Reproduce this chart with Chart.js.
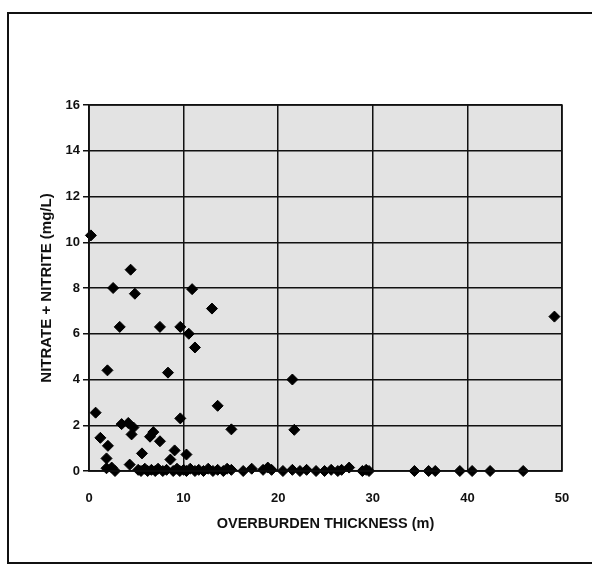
<!DOCTYPE html>
<html>
<head>
<meta charset="utf-8">
<script src="https://cdn.jsdelivr.net/npm/chart.js@4/dist/chart.umd.min.js"></script>
<style>
  html, body { margin: 0; padding: 0; background: #fff; }
  #wrap { width: 592px; height: 565px; }
</style>
</head>
<body>
<div id="wrap"><canvas id="scatter" width="592" height="565"></canvas></div>
<script>
// overburden thickness (m) and nitrate + nitrite (mg/L)
const thickness = [
  0.2, 0.7, 1.2, 1.95, 2.0, 1.85, 2.55, 4.4, 4.85, 10.9, 13.0, 3.25, 7.5, 9.65,
  10.55, 11.2, 8.35, 13.6, 15.05, 9.65, 3.45, 4.15, 4.7, 4.5, 6.8, 6.45, 7.5,
  5.6, 9.05, 8.6, 10.3, 2.4, 4.3, 1.85, 21.5, 21.7, 49.2,
  2.75, 5.2, 5.5, 5.9, 6.2, 6.6, 7.0, 7.3, 7.8, 8.2, 8.9, 9.3, 9.6, 10.0, 10.3,
  10.7, 11.2, 11.6, 12.1, 12.6, 13.1, 13.6, 14.2, 14.6, 15.05, 16.3, 17.2, 18.4,
  18.9, 19.3, 20.5, 21.5, 22.3, 23.0, 24.0, 24.9, 25.6, 26.3, 26.7, 27.5, 28.9,
  29.3, 29.6, 34.4, 35.9, 36.6, 39.2, 40.5, 42.4, 45.9
];
const nitrate = [
  10.3, 2.55, 1.45, 4.4, 1.1, 0.55, 8.0, 8.8, 7.75, 7.95, 7.1, 6.3, 6.3, 6.3,
  6.0, 5.4, 4.3, 2.85, 1.82, 2.3, 2.05, 2.1, 1.9, 1.6, 1.7, 1.5, 1.3,
  0.77, 0.9, 0.5, 0.72, 0.15, 0.28, 0.12, 4.0, 1.8, 6.75,
  0, 0.05, 0, 0.1, 0, 0.05, 0, 0.1, 0, 0.05, 0, 0.1, 0, 0.05, 0,
  0.1, 0, 0.05, 0, 0.1, 0, 0.05, 0, 0.1, 0.05, 0, 0.1, 0.05,
  0.15, 0.05, 0, 0.05, 0, 0.05, 0, 0, 0.05, 0, 0.05, 0.15, 0,
  0.05, 0, 0, 0, 0, 0, 0, 0, 0
];
const xTicks = [0, 10, 20, 30, 40, 50];
const yTicks = [0, 2, 4, 6, 8, 10, 12, 14, 16];

const points = thickness.map((x, i) => ({ x: x, y: nitrate[i] }));

const face = "'Liberation Sans', Arial, sans-serif";

// white page, scanned frame and grey plot area
const framePlugin = {
  id: 'frame',
  beforeDraw(chart) {
    const c = chart.ctx;
    const a = chart.chartArea;
    c.save();
    c.fillStyle = '#ffffff';
    c.fillRect(0, 0, chart.width, chart.height);
    c.strokeStyle = '#111';
    c.lineWidth = 2;
    c.strokeRect(8, 13, 600, 550);
    c.fillStyle = '#e3e3e3';
    c.fillRect(a.left, a.top, a.right - a.left, a.bottom - a.top);
    c.restore();
  },
  afterDatasetsDraw(chart) {
    const c = chart.ctx;
    const a = chart.chartArea;
    c.save();
    c.strokeStyle = '#111';
    c.lineWidth = 1.5;
    c.strokeRect(a.left, a.top, a.right - a.left, a.bottom - a.top);
    c.restore();
  }
};

new Chart(document.getElementById('scatter'), {
  type: 'scatter',
  data: {
    datasets: [{
      data: points,
      pointStyle: 'rectRot',
      pointRadius: 5.5,
      pointHoverRadius: 5.5,
      backgroundColor: '#000',
      borderColor: '#000',
      borderWidth: 1,
      clip: false
    }]
  },
  plugins: [framePlugin],
  options: {
    responsive: false,
    animation: false,
    events: [],
    layout: { padding: { left: 30, right: 30, top: 105, bottom: 25 } },
    plugins: { legend: { display: false }, tooltip: { enabled: false } },
    scales: {
      x: {
        type: 'linear',
        min: 0,
        max: 50,
        afterFit(scale) { scale.height = 69; },
        afterBuildTicks(scale) { scale.ticks = xTicks.map(v => ({ value: v })); },
        grid: { color: '#111', lineWidth: 1.5, drawTicks: false },
        border: { color: '#111', width: 1.5 },
        ticks: {
          padding: 20,
          color: '#111',
          maxRotation: 0,
          font: { family: face, size: 13, weight: 'bold' }
        },
        title: {
          display: true,
          text: 'OVERBURDEN THICKNESS (m)',
          color: '#111',
          padding: { top: 0, bottom: 7 },
          font: { family: face, size: 14.5, weight: 'bold' }
        }
      },
      y: {
        type: 'linear',
        min: 0,
        max: 16,
        afterFit(scale) { scale.width = 59; },
        afterBuildTicks(scale) { scale.ticks = yTicks.map(v => ({ value: v })); },
        grid: { color: '#111', lineWidth: 1.5, tickLength: 6 },
        border: { color: '#111', width: 1.5 },
        ticks: {
          padding: 3,
          color: '#111',
          font: { family: face, size: 13, weight: 'bold' }
        },
        title: {
          display: true,
          text: 'NITRATE + NITRITE (mg/L)',
          color: '#111',
          padding: { top: 8, bottom: 0 },
          font: { family: face, size: 15, weight: 'bold' }
        }
      }
    }
  }
});
</script>
</body>
</html>
